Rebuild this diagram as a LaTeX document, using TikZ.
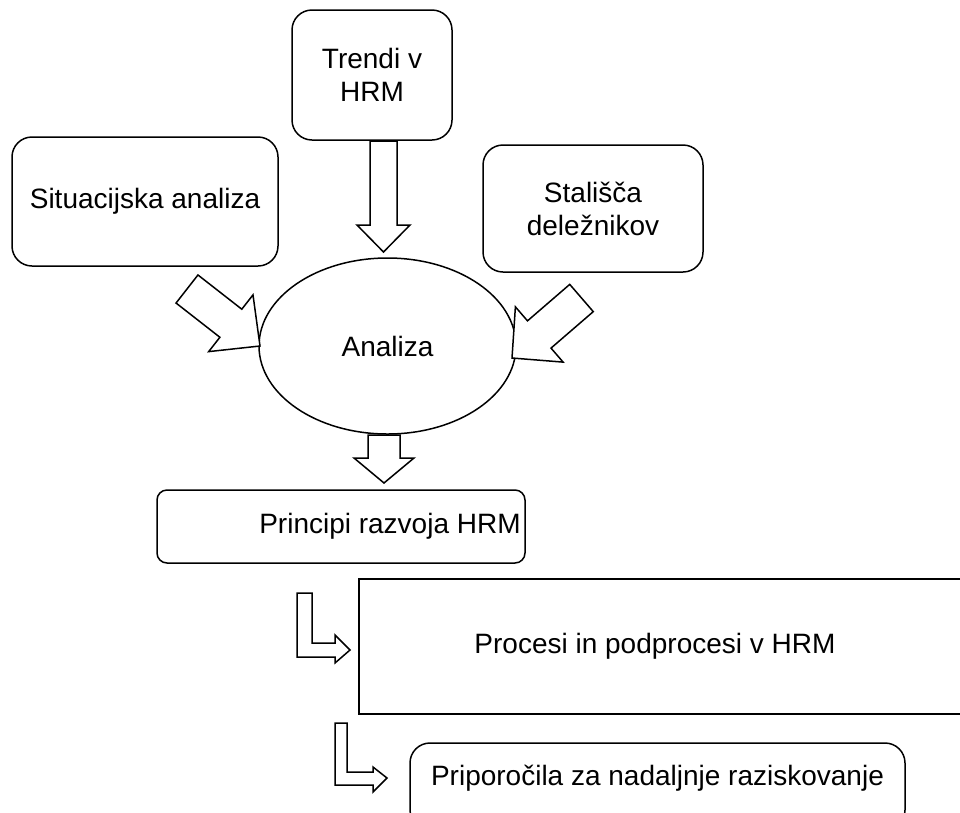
\documentclass[tikz,border=0pt]{standalone}
\usepackage{fontspec}
\setmainfont{Liberation Sans}
\usetikzlibrary{calc}
\usetikzlibrary{shapes}
\tikzstyle{roundbox}=[draw,black,line width=1.5pt,rounded corners=20pt,align=center,inner sep=0pt]
\tikzstyle{plainbox}=[draw,black,line width=1.5pt,inner sep=0pt]
\tikzstyle{oval}=[draw,ellipse,black,line width=1.5pt,inner sep=0pt]
\tikzstyle{fatline}=[draw,black,fill=white,line width=1.5pt,line join=miter]
% block arrow: tail, tip, half shaft width, half head width, head length
\newcommand{\fatarrow}[5]{%
  \path ($(#2)!#5!(#1)$) coordinate (fa-base);
  \path[fatline] ($(#1)!#3!90:(#2)$) -- ($(fa-base)!#3!-90:(#1)$)
    -- ($(fa-base)!#4!-90:(#1)$) -- (#2) -- ($(fa-base)!#4!90:(#1)$)
    -- ($(fa-base)!#3!90:(#1)$) -- ($(#1)!#3!-90:(#2)$) -- cycle;}

\begin{document}
\begin{tikzpicture}[x=1pt,y=-1pt,font=\fontsize{28}{33}\selectfont]
	\useasboundingbox (0,0) rectangle (960,812);
	\clip (0,0) rectangle (960,812);
	\node[roundbox,minimum width=160pt,minimum height=130pt] (trendi) at (372,75) {Trendi v\\HRM};
	\node[roundbox,minimum width=266pt,minimum height=129pt] (situacija) at (145,201.5) {Situacijska analiza};
	\node[roundbox,minimum width=220pt,minimum height=127pt] (stalisca) at (593,208.5) {Stališča\\deležnikov};
	\node[oval,minimum width=257pt,minimum height=176pt] (analiza) at (387.5,346) {Analiza};
	\node[roundbox,rounded corners=10pt,minimum width=368pt,minimum height=73pt,
		label={[xshift=49pt]center:Principi razvoja HRM}] (principi) at (341,526.5) {};
	\node[plainbox,minimum width=641pt,minimum height=135pt,
		label={[xshift=-24.5pt]center:Procesi in podprocesi v HRM}] (procesi) at (679.5,646.5) {};
	\node[roundbox,minimum width=495pt,minimum height=87pt,
		label={[yshift=8.5pt]center:Priporočila za nadaljnje raziskovanje}] (priporocila) at (657.5,786.5) {};
	% block arrows into and out of the analysis
	\coordinate (tr-tail) at (383.5,141);
	\coordinate (tr-tip) at (383.5,252);
	\coordinate (si-tail) at (187,289);
	\coordinate (si-tip) at (260,346);
	\coordinate (st-tail) at (581.5,298);
	\coordinate (st-tip) at (512,358);
	\coordinate (an-tail) at (384,435);
	\coordinate (an-tip) at (384,483);
	\fatarrow{tr-tail}{tr-tip}{13.5pt}{26.5pt}{27pt}
	\fatarrow{si-tail}{si-tip}{17.8pt}{36pt}{37pt}
	\fatarrow{st-tail}{st-tip}{18pt}{36.5pt}{36pt}
	\fatarrow{an-tail}{an-tip}{16pt}{30pt}{25pt}
	% bent arrows down the chain
	\coordinate (pr-bend) at (297,593);
	\coordinate (po-bend) at (335,723);
	\path[fatline] (pr-bend) -- ++(15,0) -- ++(0,50) -- ++(23,0) -- ++(0,-8) -- ++(15,15)
		-- ++(-15,13) -- ++(0,-6) -- ++(-38,0) -- cycle;
	\path[fatline] (po-bend) -- ++(12,0) -- ++(0,49) -- ++(26,0) -- ++(0,-5) -- ++(14,11)
		-- ++(-14,14) -- ++(0,-7) -- ++(-38,0) -- cycle;
\end{tikzpicture}
\end{document}
